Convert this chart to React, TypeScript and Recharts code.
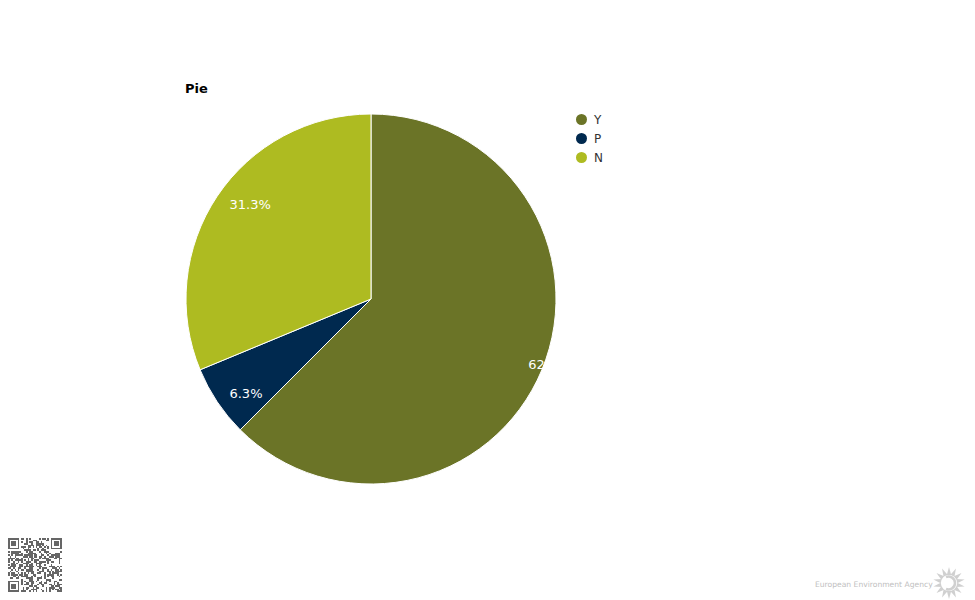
import React from "react";
import { PieChart, Pie, Cell } from "recharts";

const categories = ["Y", "P", "N"];
const shares = [62.5, 6.25, 31.25];
const colors = ["#6b7427", "#00294f", "#aebb21"];

const chartTitle = "Pie";
const footerText = "European Environment Agency";
const qrSeed = "https://www.eea.europa.eu/data-and-maps/daviz";

const data = categories.map((name, i) => ({ name, value: shares[i] }));

const RAD = Math.PI / 180;
const font = "'DejaVu Sans', Verdana, sans-serif";

const renderLabel = (props: any) => {
  const { cx, cy, midAngle, outerRadius, percent } = props;
  const r = outerRadius * 0.92;
  const x = cx + r * Math.cos(-midAngle * RAD);
  const y = cy + r * Math.sin(-midAngle * RAD);
  return (
    <text
      x={x}
      y={y}
      fill="#ffffff"
      textAnchor="start"
      dominantBaseline="central"
      fontSize={13}
      fontFamily={font}
    >
      {(percent * 100).toFixed(1)}%
    </text>
  );
};

const LegendBox = () => (
  <div
    style={{
      position: "absolute",
      left: 576,
      top: 110,
      fontFamily: font,
      fontSize: 12,
      color: "#333",
    }}
  >
    {data.map((d, i) => (
      <div key={d.name} style={{ display: "flex", alignItems: "center", height: 19 }}>
        <span
          style={{
            width: 11,
            height: 11,
            borderRadius: "50%",
            background: colors[i],
            marginRight: 7,
            display: "inline-block",
          }}
        />
        <span>{d.name}</span>
      </div>
    ))}
  </div>
);

// little QR-like badge in the corner, derived from a fixed string
const QrBadge = () => {
  const n = 33;
  const cell = 54 / n;
  const bits: boolean[] = [];
  let h = 2166136261;
  for (let i = 0; i < n * n; i++) {
    h ^= qrSeed.charCodeAt(i % qrSeed.length) + i;
    h = Math.imul(h, 16777619) >>> 0;
    h ^= h >>> 13;
    bits.push(((h >>> 7) & 1) === 1);
  }
  const inFinder = (r: number, c: number) =>
    (r < 8 && c < 8) || (r < 8 && c >= n - 8) || (r >= n - 8 && c < 8);
  const rects: React.ReactNode[] = [];
  for (let r = 0; r < n; r++) {
    for (let c = 0; c < n; c++) {
      if (inFinder(r, c)) continue;
      if (bits[r * n + c]) {
        rects.push(<rect key={`${r}-${c}`} x={c * cell} y={r * cell} width={cell} height={cell} />);
      }
    }
  }
  const finder = (x: number, y: number) => (
    <g key={`f${x}${y}`}>
      <rect x={x + cell * 0.5} y={y + cell * 0.5} width={cell * 6} height={cell * 6} fill="none" stroke="#666" strokeWidth={cell} />
      <rect x={x + cell * 2} y={y + cell * 2} width={cell * 3} height={cell * 3} />
    </g>
  );
  return (
    <svg width={54} height={54} style={{ position: "absolute", left: 8, top: 538 }} fill="#666" shapeRendering="crispEdges">
      {rects}
      {finder(0, 0)}
      {finder((n - 7) * cell, 0)}
      {finder(0, (n - 7) * cell)}
    </svg>
  );
};

const SunLogo = () => {
  const rays = Array.from({ length: 14 }, (_, i) => i);
  return (
    <svg width={34} height={34} style={{ position: "absolute", left: 932, top: 566 }}>
      <g transform="translate(17,17)" fill="#d0d0d0">
        {rays.map((i) => (
          <polygon
            key={i}
            points="-2.2,-8 2.2,-8 0,-16"
            transform={`rotate(${i * (360 / 14)})`}
          />
        ))}
        <path d="M -3 -6 A 6.5 6.5 0 1 1 -3 6" fill="none" stroke="#d0d0d0" strokeWidth={2.5} />
      </g>
    </svg>
  );
};

export default function App() {
  return (
    <div
      style={{
        position: "absolute",
        left: 0,
        top: 0,
        width: 975,
        height: 600,
        background: "#fff",
        overflow: "hidden",
      }}
    >
      <PieChart width={975} height={600} margin={{ top: 0, right: 0, bottom: 0, left: 0 }}>
        <Pie
          data={data}
          dataKey="value"
          nameKey="name"
          cx={371}
          cy={299}
          outerRadius={185}
          startAngle={90}
          endAngle={-270}
          stroke="#ffffff"
          strokeWidth={1}
          label={renderLabel}
          labelLine={false}
          isAnimationActive={false}
        >
          {data.map((d, i) => (
            <Cell key={d.name} fill={colors[i]} />
          ))}
        </Pie>
      </PieChart>
      <div
        style={{
          position: "absolute",
          left: 185,
          top: 81,
          fontFamily: font,
          fontWeight: "bold",
          fontSize: 13,
          color: "#000",
        }}
      >
        {chartTitle}
      </div>
      <LegendBox />
      <QrBadge />
      <div
        style={{
          position: "absolute",
          left: 815,
          top: 580,
          fontFamily: font,
          fontSize: 7.6,
          color: "#c0c0c0",
          whiteSpace: "nowrap",
        }}
      >
        {footerText}
      </div>
      <SunLogo />
    </div>
  );
}
